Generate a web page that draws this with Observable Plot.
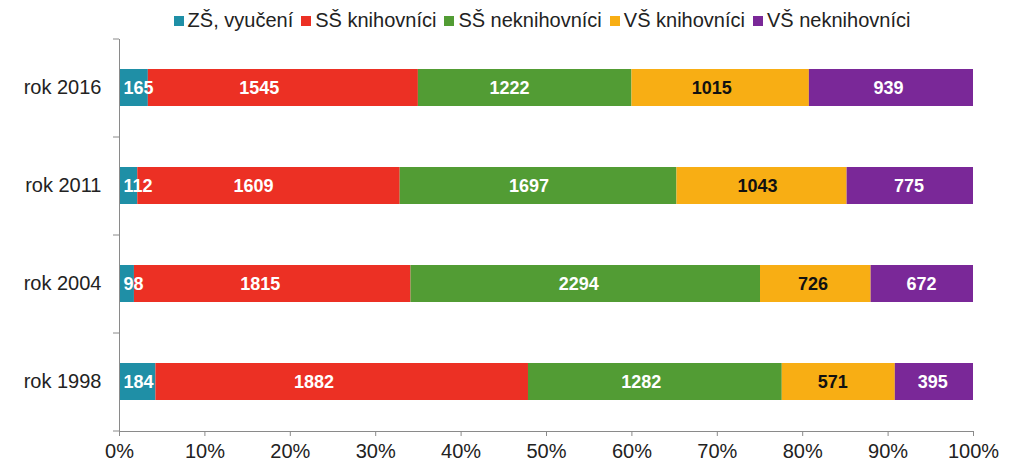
<!DOCTYPE html>
<html>
<head>
<meta charset="utf-8">
<script src="https://cdn.jsdelivr.net/npm/d3@7"></script>
<script src="https://cdn.jsdelivr.net/npm/@observablehq/plot@0.6"></script>
<style>
  html, body { margin: 0; padding: 0; background: #fff; }
  body { width: 1024px; height: 472px; overflow: hidden; font-family: "Liberation Sans", Arial, sans-serif; }
  #legend { height: 36px; display: flex; justify-content: center; align-items: center; padding-left: 60px; padding-top: 5px; box-sizing: border-box; font-size: 20px; color: #222; }
  .item { display: flex; align-items: center; margin: 0 4px; }
  .sw { width: 10px; height: 10px; margin-right: 4px; }
</style>
</head>
<body>
<div id="legend"></div>
<div id="chart"></div>
<script>
const years = ["rok 2016", "rok 2011", "rok 2004", "rok 1998"];
const series = ["ZŠ, vyučení", "SŠ knihovníci", "SŠ neknihovníci", "VŠ knihovníci", "VŠ neknihovníci"];
const colors = ["#1f8fa6", "#ec3024", "#529c34", "#f8ae14", "#7a2898"];
const zsVyuceni = [165, 112, 98, 184];
const ssKnihovnici = [1545, 1609, 1815, 1882];
const ssNeknihovnici = [1222, 1697, 2294, 1282];
const vsKnihovnici = [1015, 1043, 726, 571];
const vsNeknihovnici = [939, 775, 672, 395];
const xTicks = [0, 0.1, 0.2, 0.3, 0.4, 0.5, 0.6, 0.7, 0.8, 0.9, 1];

const seriesValues = [zsVyuceni, ssKnihovnici, ssNeknihovnici, vsKnihovnici, vsNeknihovnici];
const data = [];
series.forEach((s, si) => years.forEach((y, yi) => data.push({year: y, series: s, value: seriesValues[si][yi]})));

const legend = document.getElementById("legend");
series.forEach((s, i) => {
  const it = document.createElement("div");
  it.className = "item";
  it.innerHTML = `<span class="sw" style="background:${colors[i]}"></span><span>${s}</span>`;
  legend.appendChild(it);
});

const stackOpts = {offset: "normalize", order: series, x: "value", y: "year", z: "series"};
const first = series[0];
const textCommon = {
  text: d => String(d.value),
  fill: d => d.series === "VŠ knihovníci" ? "#111" : "#fff",
  fontWeight: "bold",
  fontSize: 18
};

const chart = Plot.plot({
  width: 1024,
  height: 436,
  marginLeft: 119,
  marginRight: 51,
  marginTop: 3,
  marginBottom: 41,
  style: {fontFamily: "'Liberation Sans', Arial, sans-serif", fontSize: "20px", color: "#222", background: "#fff"},
  x: {domain: [0, 1]},
  y: {domain: years, paddingInner: 0.62, paddingOuter: 0.31, label: null},
  color: {domain: series, range: colors},
  marks: [
    Plot.barX(data, Plot.stackX({...stackOpts, fill: "series"})),
    Plot.text(data, Plot.stackX({...stackOpts, ...textCommon, filter: d => d.series !== first})),
    Plot.text(data, Plot.stackX1({...stackOpts, ...textCommon, filter: d => d.series === first, textAnchor: "start", dx: 4})),
    Plot.frame({anchor: "left", stroke: "#8a8a8a"}),
    Plot.frame({anchor: "bottom", stroke: "#8a8a8a"}),
    Plot.axisX(xTicks, {tickFormat: d3.format(".0%"), tickSize: 5, tickPadding: 7, stroke: "#8a8a8a", fill: "#222", label: null}),
    Plot.axisY({tickSize: 0, tickPadding: 18, fill: "#222", label: null}),
    Plot.axisY({tickSize: 6, text: null, dy: 49, stroke: "#8a8a8a", label: null}),
    Plot.axisY(years.slice(0, 1), {tickSize: 6, text: null, dy: -49, stroke: "#8a8a8a", label: null})
  ]
});
document.getElementById("chart").appendChild(chart);
</script>
</body>
</html>
